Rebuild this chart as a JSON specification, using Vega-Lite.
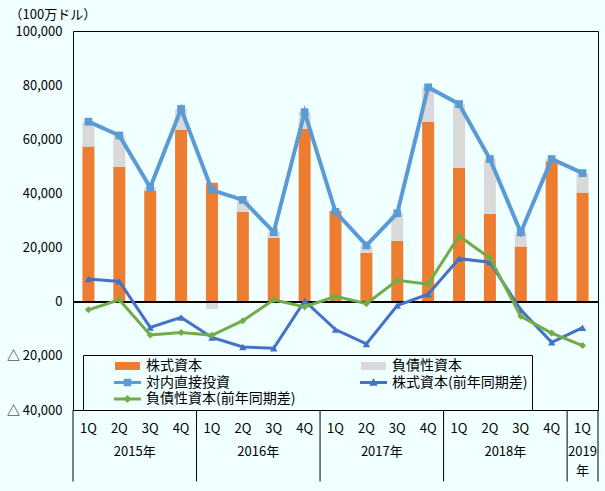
{
  "$schema": "https://vega.github.io/schema/vega-lite/v6.json",
  "width": 525,
  "height": 379,
  "autosize": {"type": "none"},
  "padding": {"left": 73, "top": 31, "right": 7, "bottom": 81},
  "background": "#F0FFFF",
  "config": {
    "font": "Noto Sans CJK JP",
    "view": {"stroke": "black", "strokeWidth": 1}
  },
  "datasets": {
    "fdi": [
      {"q": "2015-1Q", "株式資本": 57300, "負債性資本": 9200, "total": 66500, "eqYoY": 8400, "debtYoY": -3000},
      {"q": "2015-2Q", "株式資本": 49900, "負債性資本": 11500, "total": 61400, "eqYoY": 7500, "debtYoY": 700},
      {"q": "2015-3Q", "株式資本": 41000, "負債性資本": 1200, "total": 42200, "eqYoY": -9500, "debtYoY": -12300},
      {"q": "2015-4Q", "株式資本": 63500, "負債性資本": 7700, "total": 71200, "eqYoY": -5800, "debtYoY": -11400},
      {"q": "2016-1Q", "株式資本": 43900, "負債性資本": -2700, "total": 41200, "eqYoY": -13200, "debtYoY": -12400},
      {"q": "2016-2Q", "株式資本": 33200, "負債性資本": 4400, "total": 37600, "eqYoY": -16700, "debtYoY": -7000},
      {"q": "2016-3Q", "株式資本": 23600, "負債性資本": 2100, "total": 25700, "eqYoY": -17200, "debtYoY": 700},
      {"q": "2016-4Q", "株式資本": 63800, "負債性資本": 6200, "total": 70000, "eqYoY": 300, "debtYoY": -1900},
      {"q": "2017-1Q", "株式資本": 33600, "負債性資本": -400, "total": 33200, "eqYoY": -10300, "debtYoY": 2000},
      {"q": "2017-2Q", "株式資本": 18000, "負債性資本": 2800, "total": 20800, "eqYoY": -15600, "debtYoY": -700},
      {"q": "2017-3Q", "株式資本": 22500, "負債性資本": 10200, "total": 32700, "eqYoY": -1400, "debtYoY": 7900},
      {"q": "2017-4Q", "株式資本": 66400, "負債性資本": 12800, "total": 79200, "eqYoY": 2800, "debtYoY": 6500},
      {"q": "2018-1Q", "株式資本": 49400, "負債性資本": 23600, "total": 73000, "eqYoY": 15900, "debtYoY": 24300},
      {"q": "2018-2Q", "株式資本": 32400, "負債性資本": 20300, "total": 52700, "eqYoY": 14600, "debtYoY": 16100},
      {"q": "2018-3Q", "株式資本": 20400, "負債性資本": 5200, "total": 25600, "eqYoY": -3000, "debtYoY": -5400},
      {"q": "2018-4Q", "株式資本": 51800, "負債性資本": 900, "total": 52700, "eqYoY": -15000, "debtYoY": -11600},
      {"q": "2019-1Q", "株式資本": 40300, "負債性資本": 7200, "total": 47500, "eqYoY": -9600, "debtYoY": -16200}
    ]
  },
  "data": {"name": "fdi"},
  "layer": [
    {
      "transform": [{"fold": ["株式資本", "負債性資本"], "as": ["key", "value"]}],
      "mark": {"type": "bar", "width": 12, "opacity": 1},
      "encoding": {
        "x": {
          "field": "q",
          "type": "nominal",
          "sort": null,
          "scale": {
            "domain": ["2015-1Q", "2015-2Q", "2015-3Q", "2015-4Q", "2016-1Q", "2016-2Q", "2016-3Q", "2016-4Q", "2017-1Q", "2017-2Q", "2017-3Q", "2017-4Q", "2018-1Q", "2018-2Q", "2018-3Q", "2018-4Q", "2019-1Q"],
            "paddingInner": 0,
            "paddingOuter": 0
          },
          "axis": {
            "title": null,
            "ticks": false,
            "domain": false,
            "labelAngle": 0,
            "labelPadding": 12,
            "labelFontSize": 13,
            "labelColor": "black",
            "labelExpr": "split(datum.label, '-')[1]"
          }
        },
        "y": {
          "field": "value",
          "type": "quantitative",
          "stack": "zero",
          "scale": {"domain": [-40000, 100000], "nice": false, "zero": false},
          "axis": {
            "title": "（100万ドル）",
            "titleAngle": 0,
            "titleAlign": "left",
            "titleBaseline": "middle",
            "titleX": -64,
            "titleY": -17,
            "titleFontSize": 13,
            "titleFontWeight": "normal",
            "titleColor": "black",
            "values": [-40000, -20000, 0, 20000, 40000, 60000, 80000, 100000],
            "labelExpr": "datum.value < 0 ? '△ ' + format(-datum.value, ',') : format(datum.value, ',')",
            "ticks": false,
            "domain": false,
            "grid": false,
            "labelPadding": 11,
            "labelFontSize": 13,
            "labelColor": "black"
          }
        },
        "color": {
          "field": "key",
          "type": "nominal",
          "scale": {
            "domain": ["株式資本", "負債性資本", "対内直接投資", "株式資本(前年同期差)", "負債性資本(前年同期差)"],
            "range": ["#ED7D31", "#D9D9D9", "#5B9BD5", "#4472C4", "#70AD47"]
          },
          "legend": {
            "title": null,
            "orient": "none",
            "legendX": 10,
            "legendY": 324,
            "direction": "horizontal",
            "columns": 2,
            "padding": 4,
            "strokeColor": "black",
            "fillColor": "#F0FFFF",
            "symbolSize": 100,
            "symbolOffset": 33.5,
            "symbolOpacity": 1,
            "symbolStrokeWidth": 0,
            "labelOffset": 11.5,
            "rowPadding": 2.5,
            "columnPadding": 37,
            "labelFontSize": 14,
            "labelColor": "black",
            "labelLimit": 400,
            "labelExpr": "datum.label + (datum.value === '株式資本(前年同期差)' ? '\u3000\u3000\u3000\u2002' : '')"
          }
        },
        "order": {"field": "key", "sort": "ascending"}
      }
    },
    {
      "data": {"values": [{"s": "株式資本"}, {"s": "負債性資本"}, {"s": "対内直接投資"}, {"s": "株式資本(前年同期差)"}, {"s": "負債性資本(前年同期差)"}]},
      "mark": {"type": "point", "filled": true, "opacity": 0, "size": 0},
      "encoding": {
        "color": {"field": "s", "type": "nominal"},
        "shape": {
          "field": "s",
          "type": "nominal",
          "scale": {
            "domain": ["株式資本", "負債性資本", "対内直接投資", "株式資本(前年同期差)", "負債性資本(前年同期差)"],
            "range": [
              "M-2.5,-0.8H2.5V0.8H-2.5Z",
              "M-2.5,-0.8H2.5V0.8H-2.5Z",
              "M-2.7,-0.3H2.7V0.3H-2.7Z M-0.75,-0.75H0.75V0.75H-0.75Z",
              "M-2.7,-0.3H2.7V0.3H-2.7Z M0,-0.9L0.85,0.65H-0.85Z",
              "M-2.7,-0.3H2.7V0.3H-2.7Z M0,-0.8L0.8,0L0,0.8L-0.8,0Z"
            ]
          }
        }
      }
    },
    {
      "mark": {"type": "rule", "color": "black", "strokeWidth": 1},
      "encoding": {"y": {"datum": 0}}
    },
    {
      "mark": {"type": "line", "strokeWidth": 4, "point": {"shape": "square", "size": 60, "filled": true, "opacity": 1}},
      "encoding": {
        "x": {"field": "q", "type": "nominal"},
        "y": {"field": "total", "type": "quantitative"},
        "color": {"datum": "対内直接投資"}
      }
    },
    {
      "mark": {"type": "line", "strokeWidth": 3, "point": {"shape": "triangle-up", "size": 55, "filled": true, "opacity": 1}},
      "encoding": {
        "x": {"field": "q", "type": "nominal"},
        "y": {"field": "eqYoY", "type": "quantitative"},
        "color": {"datum": "株式資本(前年同期差)"}
      }
    },
    {
      "mark": {"type": "line", "strokeWidth": 3, "point": {"shape": "diamond", "size": 50, "filled": true, "opacity": 1}},
      "encoding": {
        "x": {"field": "q", "type": "nominal"},
        "y": {"field": "debtYoY", "type": "quantitative"},
        "color": {"datum": "負債性資本(前年同期差)"}
      }
    },
    {
      "data": {"values": [{"q": "2015-1Q"}, {"q": "2016-1Q"}, {"q": "2017-1Q"}, {"q": "2018-1Q"}, {"q": "2019-1Q"}]},
      "mark": {"type": "rule", "color": "black", "strokeWidth": 1},
      "encoding": {
        "x": {"field": "q", "type": "nominal", "bandPosition": 0},
        "y": {"datum": -40000},
        "y2": {"datum": -66400}
      }
    },
    {
      "data": {"values": [{"q": "2019-1Q"}]},
      "mark": {"type": "rule", "color": "black", "strokeWidth": 1},
      "encoding": {
        "x": {"field": "q", "type": "nominal", "bandPosition": 1},
        "y": {"datum": -40000},
        "y2": {"datum": -66400}
      }
    },
    {
      "data": {"values": [{"q": "2015-3Q", "label": "2015年"}, {"q": "2016-3Q", "label": "2016年"}, {"q": "2017-3Q", "label": "2017年"}, {"q": "2018-3Q", "label": "2018年"}]},
      "mark": {"type": "text", "fontSize": 13, "baseline": "top", "color": "black"},
      "encoding": {
        "x": {"field": "q", "type": "nominal", "bandPosition": 0},
        "y": {"datum": -53300},
        "text": {"field": "label"}
      }
    },
    {
      "data": {"values": [{"q": "2019-1Q", "label": "2019\n年"}]},
      "mark": {"type": "text", "fontSize": 13, "baseline": "top", "color": "black", "lineBreak": "\n", "lineHeight": 19},
      "encoding": {
        "x": {"field": "q", "type": "nominal", "bandPosition": 0.5},
        "y": {"datum": -53300},
        "text": {"field": "label"}
      }
    }
  ]
}
